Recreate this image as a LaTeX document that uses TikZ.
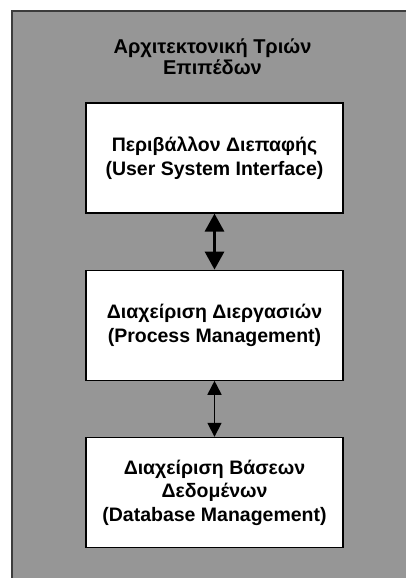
\documentclass[tikz,border=0pt]{standalone}
\usepackage{fontspec}
\setmainfont{Liberation Sans}
\usetikzlibrary{positioning,arrows.meta}

\begin{document}
\begin{tikzpicture}[%
  x=1pt, y=1pt,
  layer/.style = {draw=black, line width=1.2pt, fill=white,
    minimum width=257pt, minimum height=110pt, align=center,
    font=\fontsize{19.5}{23.5}\selectfont\bfseries},
  big link/.style = {line width=3pt, {Triangle[width=19pt, length=18pt]}-{Triangle[width=19pt, length=18pt]}},
  small link/.style = {line width=1.7pt, {Triangle[width=14pt, length=14pt]}-{Triangle[width=14pt, length=14pt]}},
  node distance = 56pt,
]
  \useasboundingbox (0,0) rectangle (406,578);
  \clip (0,0) rectangle (406,578);
  \fill[white] (0,0) rectangle (406,578);

  % background panel
  \draw[fill={rgb,255:red,150;green,150;blue,150}, draw={rgb,255:red,60;green,60;blue,60}, line width=1.5pt]
    (12,-10) rectangle (420,567);

  \node[align=center, font=\fontsize{20}{21}\selectfont\bfseries] (title) at (212.5,521)
    {Αρχιτεκτονική Τριών\\Επιπέδων};

  \node[layer] (ui) at (214.5,420) {Περιβάλλον Διεπαφής\\(User System Interface)};
  \node[layer, below=of ui] (proc) {Διαχείριση Διεργασιών\\(Process Management)};
  \node[layer, below=of proc] (db) {Διαχείριση Βάσεων\\Δεδομένων\\(Database Management)};

  \draw[big link] (ui) -- (proc);
  \draw[small link] (proc) -- (db);

\end{tikzpicture}
\end{document}
